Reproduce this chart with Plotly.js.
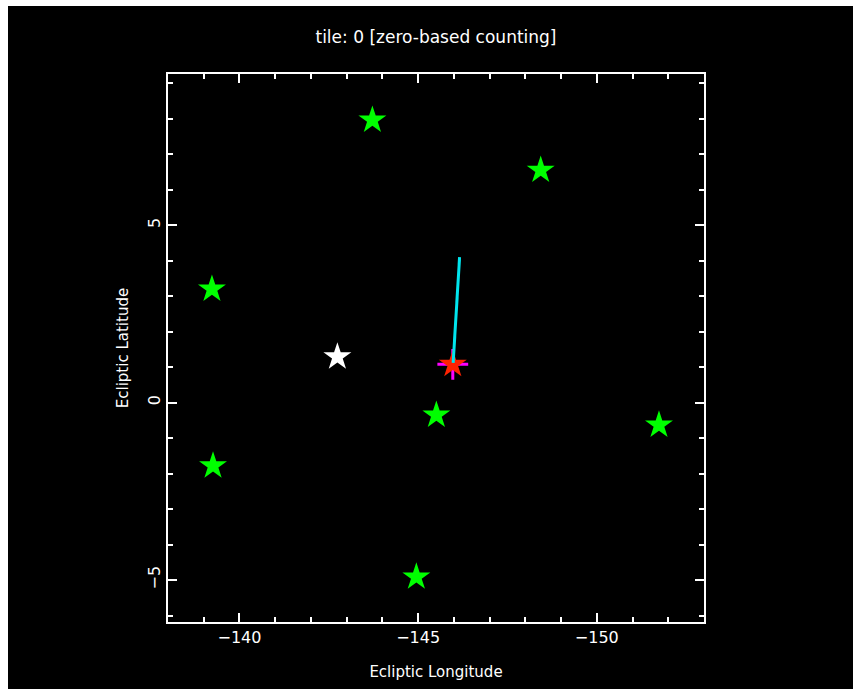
<!DOCTYPE html>
<html><head><meta charset="utf-8">
<script src="https://cdn.plot.ly/plotly-3.0.1.min.js"></script>
<style>
html,body{margin:0;padding:0;background:#fff;width:853px;height:689px;overflow:hidden}
#chart{position:absolute;left:8px;top:6px;width:845px;height:683px}
</style></head>
<body><div id="chart"></div>
<script>
// Green stars (neighbour tiles)
const greenLon = [-143.72, -148.43, -139.23, -139.26, -145.51, -151.74, -144.95];
const greenLat = [7.96, 6.55, 3.20, -1.78, -0.35, -0.63, -4.91];
// White star
const whiteLon = [-142.74];
const whiteLat = [1.29];
// Red star / magenta cross (target)
const redLon = [-145.97];
const redLat = [1.08];
// Cyan track
const cyanLon = [-145.98, -146.16];
const cyanLat = [1.12, 4.10];

const xRange = [-138.0, -153.0];
const yRange = [-6.18, 9.26];

const fontFam = '"DejaVu Sans", "Liberation Sans", sans-serif';

const traces = [
  {x: greenLon, y: greenLat, mode: 'markers', type: 'scatter',
   marker: {symbol: 'star', size: 21, color: '#00ff00', line: {width: 0}}},
  {x: whiteLon, y: whiteLat, mode: 'markers', type: 'scatter',
   marker: {symbol: 'star', size: 21, color: '#ffffff', line: {width: 0}}},
  {x: redLon, y: redLat, mode: 'markers', type: 'scatter',
   marker: {symbol: 'cross-thin', size: 22, color: '#ff00ff', line: {width: 3, color: '#ff00ff'}}},
  {x: redLon, y: redLat, mode: 'markers', type: 'scatter',
   marker: {symbol: 'star', size: 21, color: '#ff2200', line: {width: 0}}},
  {x: cyanLon, y: cyanLat, mode: 'lines', type: 'scatter',
   line: {color: '#00e5ee', width: 3}}
];

const axisCommon = {
  showgrid: false, zeroline: false, showline: true, linecolor: '#ffffff', linewidth: 2,
  mirror: 'allticks', ticks: 'inside', ticklen: 9, tickwidth: 2, tickcolor: '#ffffff',
  tickfont: {color: '#ffffff', size: 16, family: fontFam},
  dtick: 5, tick0: 0,
  minor: {dtick: 1, ticks: 'inside', ticklen: 5, tickwidth: 2, tickcolor: '#ffffff', showgrid: false}
};

const layout = {
  width: 845, height: 683,
  paper_bgcolor: '#000000', plot_bgcolor: '#000000',
  showlegend: false,
  margin: {l: 160, r: 149, t: 68, b: 67},
  font: {family: fontFam, color: '#ffffff'},
  title: {text: 'tile: 0 [zero-based counting]', font: {size: 17, color: '#ffffff', family: fontFam},
          x: 0.5, xref: 'paper', y: 0.955, yref: 'container', yanchor: 'middle'},
  xaxis: Object.assign({}, axisCommon, {
    range: xRange, autorange: false,
    title: {text: 'Ecliptic Longitude', font: {size: 15, color: '#ffffff', family: fontFam}, standoff: 20}
  }),
  yaxis: Object.assign({}, axisCommon, {
    range: yRange, autorange: false, tickangle: -90,
    title: {text: 'Ecliptic Latitude', font: {size: 15, color: '#ffffff', family: fontFam}, standoff: 12}
  })
};

Plotly.newPlot('chart', traces, layout, {displayModeBar: false, staticPlot: true});
</script>
</body></html>
